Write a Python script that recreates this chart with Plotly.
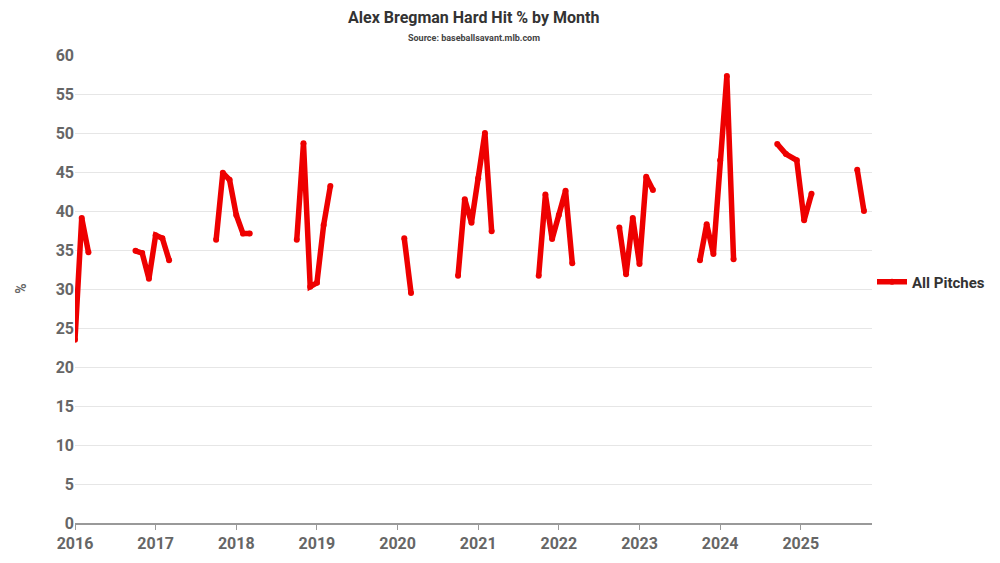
import plotly.graph_objects as go

# month index from Jan 2016 (season gaps marked by None)
months = [0, 1, 2, None,
          9, 10, 11, 12, 13, 14, None,
          21, 22, 23, 24, 25, 26, None,
          33, 34, 35, 36, 37, 38, None,
          49, 50, None,
          57, 58, 59, 60, 61, 62, None,
          69, 70, 71, 72, 73, 74, None,
          81, 82, 83, 84, 85, 86, None,
          93, 94, 95, 96, 97, 98, None,
          104.5, 105.8, 107.4, 108.5, 109.6, None,
          116.4, 117.4]
hard_hit = [23.5, 39.1, 34.7, None,
            34.9, 34.6, 31.3, 36.9, 36.5, 33.7, None,
            36.3, 44.9, 44.0, 39.5, 37.1, 37.1, None,
            36.3, 48.7, 30.3, 30.8, 38.2, 43.2, None,
            36.5, 29.5, None,
            31.7, 41.5, 38.5, 44.2, 50.0, 37.4, None,
            31.7, 42.1, 36.4, 39.5, 42.6, 33.3, None,
            37.9, 31.9, 39.1, 33.2, 44.4, 42.7, None,
            33.7, 38.3, 34.5, 46.5, 57.3, 33.8, None,
            48.6, 47.3, 46.5, 38.8, 42.2, None,
            45.3, 40.0]
tick_vals = [0, 12, 24, 36, 48, 60, 72, 84, 96, 108]
tick_text = ["<b>2016</b>", "<b>2017</b>", "<b>2018</b>", "<b>2019</b>", "<b>2020</b>",
             "<b>2021</b>", "<b>2022</b>", "<b>2023</b>", "<b>2024</b>", "<b>2025</b>"]
y_vals = list(range(0, 61, 5))
y_text = [f"<b>{v}</b>" for v in y_vals]

fig = go.Figure(go.Scatter(
    x=months, y=hard_hit, mode="lines+markers", name="<b>All Pitches</b>",
    line=dict(color="#ee0000", width=5.5), marker=dict(color="#ee0000", size=6),
    connectgaps=False))

fig.update_layout(
    width=1000, height=563, paper_bgcolor="white", plot_bgcolor="white",
    margin=dict(l=67, r=136, t=47, b=48, autoexpand=False),
    font=dict(family="Roboto", color="#666"),
    annotations=[
        dict(text="<b>Alex Bregman Hard Hit % by Month</b>", x=0.5, y=1, xref="paper", yref="paper",
             yshift=38, xanchor="center", yanchor="middle", showarrow=False,
             font=dict(size=16, color="#333")),
        dict(text="<b>Source: baseballsavant.mlb.com</b>", x=0.5, y=1, xref="paper", yref="paper",
             yshift=17, xanchor="center", yanchor="middle", showarrow=False,
             font=dict(size=9, color="#444")),
        dict(text="<b>%</b>", x=-0.068, y=0.5, xref="paper", yref="paper", textangle=-90,
             xanchor="center", yanchor="middle", showarrow=False, font=dict(size=14, color="#666")),
    ],
    legend=dict(x=1.0, xanchor="left", y=0.515, yanchor="middle", itemwidth=30,
                font=dict(size=15, color="#333", family="Roboto")),
    showlegend=True,
)
fig.update_xaxes(range=[0, 118.6], tickvals=tick_vals, ticktext=tick_text, showgrid=False, automargin=False,
                 showline=True, linecolor="#999", linewidth=2, ticks="outside", ticklen=5, tickcolor="#999",
                 tickfont=dict(size=16, color="#666", family="Roboto"), zeroline=False)
fig.update_yaxes(range=[0, 60], tickvals=y_vals, ticktext=y_text, showgrid=True, gridcolor="#e6e6e6",
                 zeroline=False, automargin=False,
                 tickfont=dict(size=16, color="#666", family="Roboto"))
fig.write_html("out.html")
